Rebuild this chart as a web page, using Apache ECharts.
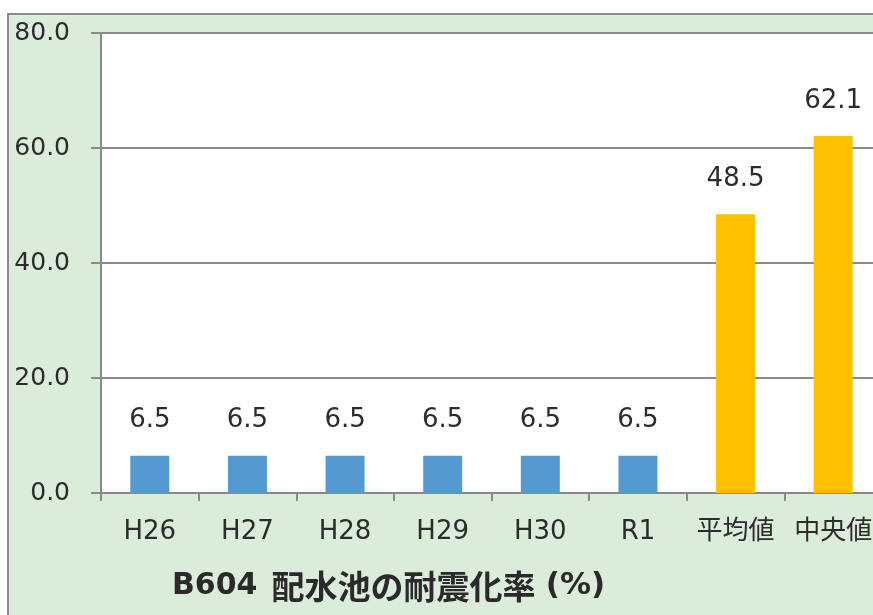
<!DOCTYPE html>
<html>
<head>
<meta charset="utf-8">
<script src="https://cdn.jsdelivr.net/npm/echarts@6/dist/echarts.min.js"></script>
<style>
  html, body { margin: 0; padding: 0; background: #ffffff; overflow: hidden; }
  /* the plot runs slightly past the right edge of the window */
  #chart { width: 890px; height: 615px; }
</style>
</head>
<body>
<div id="chart"></div>
<script>
// Categories and values for the seismic-resistance ratio chart
const categories = ['H26', 'H27', 'H28', 'H29', 'H30', 'R1', '平均値', '中央値'];
const ratios = [6.5, 6.5, 6.5, 6.5, 6.5, 6.5, 48.5, 62.1];
const barColors = ['#5499d0', '#5499d0', '#5499d0', '#5499d0', '#5499d0', '#5499d0', '#ffc000', '#ffc000'];
const yTicks = { min: 0, max: 80, interval: 20 };
const titleCode = 'B604';
const titleName = '配水池の耐震化率';
const titleUnit = '(%)';

const FONT = '"DejaVu Sans", "Noto Sans CJK JP", sans-serif';
const TEXT = '#2c2c2c';
const LINE = '#8a8a8a';

const chart = echarts.init(document.getElementById('chart'));
chart.setOption({
  backgroundColor: '#ffffff',
  animation: false,
  textStyle: { fontFamily: FONT },
  graphic: [{
    type: 'rect',
    z: -10,
    shape: { x: 8, y: 14, width: 900, height: 700 },
    style: { fill: '#dcecda', stroke: LINE, lineWidth: 2 }
  }],
  title: {
    text: '{a|' + titleCode + '}{s| }{b|' + titleName + '}{w| }{c|' + titleUnit + '}',
    left: 167,
    top: 561,
    textStyle: {
      rich: {
        a: { fontFamily: '"DejaVu Sans"', fontWeight: 'bold', fontSize: 30, color: '#2a2a2a' },
        s: { fontFamily: '"DejaVu Sans"', fontSize: 40 },
        w: { fontFamily: '"DejaVu Sans"', fontSize: 30 },
        b: { fontFamily: '"Noto Sans CJK JP"', fontWeight: 'bold', fontSize: 33, color: '#2a2a2a' },
        c: { fontFamily: '"DejaVu Sans"', fontWeight: 'bold', fontSize: 31, color: '#2a2a2a' }
      }
    }
  },
  grid: {
    left: 101, top: 33, width: 781, height: 460,
    show: true, backgroundColor: '#ffffff', borderWidth: 0
  },
  xAxis: {
    type: 'category',
    data: categories,
    axisLine: { lineStyle: { color: LINE, width: 2 } },
    axisTick: { show: true, interval: 0, length: 8, lineStyle: { color: LINE, width: 2 } },
    axisLabel: { interval: 0, color: TEXT, fontSize: 26, fontFamily: FONT, margin: 26 }
  },
  yAxis: {
    type: 'value',
    min: yTicks.min, max: yTicks.max, interval: yTicks.interval,
    axisLine: { show: true, lineStyle: { color: LINE, width: 2 } },
    axisTick: { show: true, length: 10, lineStyle: { color: LINE, width: 2 } },
    splitLine: { lineStyle: { color: LINE, width: 2 } },
    axisLabel: {
      color: TEXT, fontSize: 25, fontFamily: FONT, margin: 31,
      formatter: v => v.toFixed(1)
    }
  },
  series: [{
    type: 'bar',
    barWidth: 39,
    data: ratios.map((v, i) => ({ value: v, itemStyle: { color: barColors[i] } })),
    label: {
      show: true,
      position: 'top',
      distance: 22,
      color: TEXT,
      fontSize: 26,
      fontFamily: FONT,
      formatter: p => p.value.toFixed(1)
    }
  }]
});
</script>
</body>
</html>
